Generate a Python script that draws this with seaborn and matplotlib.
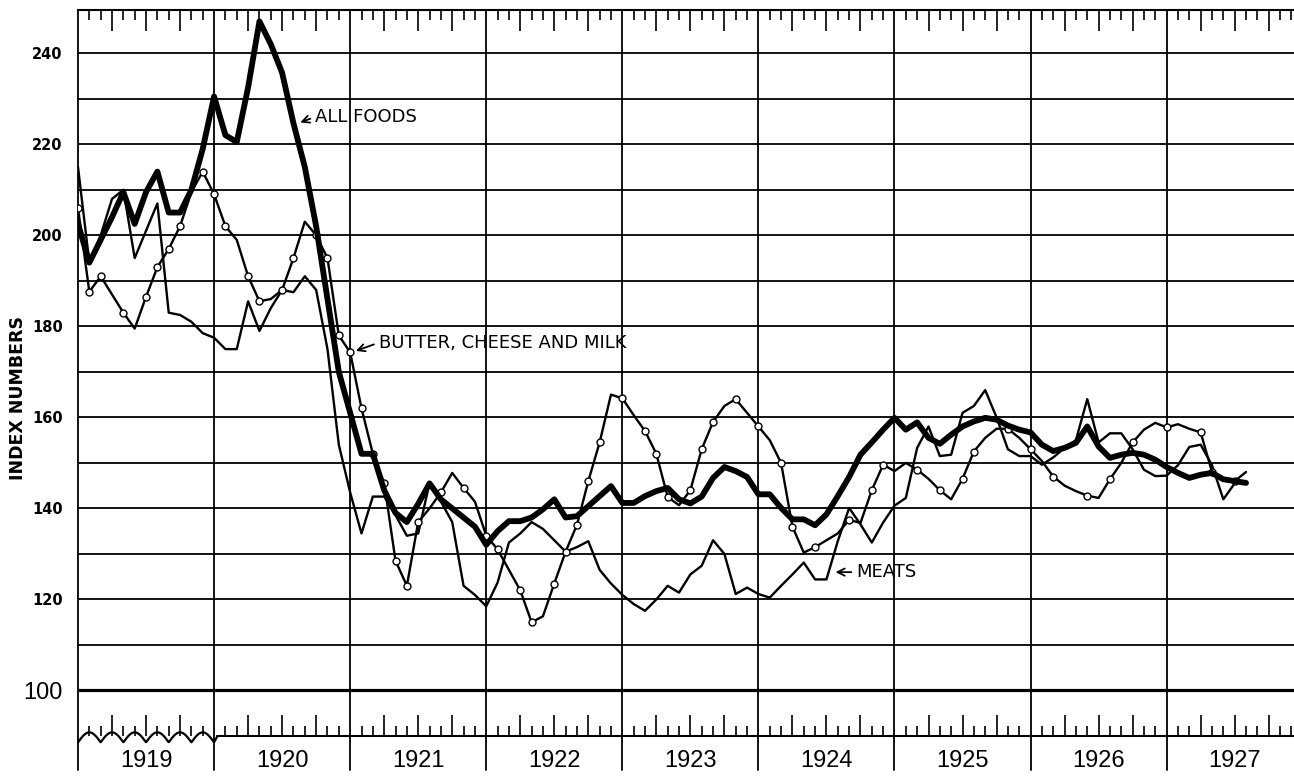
import numpy as np
import matplotlib
matplotlib.use('Agg')
import matplotlib.pyplot as plt
import seaborn as sns

# monthly index numbers, Jan 1919 .. Aug 1927
years = [1919, 1920, 1921, 1922, 1923, 1924, 1925, 1926, 1927]

all_foods = [
    202.5, 194, 199, 204, 209.5, 202.5, 209.5, 214, 205, 205, 210, 219,
    230.5, 222, 220.5, 232.5, 247, 242, 235.7, 224.6, 215, 202, 186, 170,
    161, 152, 152, 144, 139, 137, 141, 145.5, 142, 140, 138, 136,
    132, 135, 137.2, 137.2, 138, 139.8, 142, 138, 138.3, 140.5, 142.7, 144.9,
    141.2, 141.2, 142.7, 143.8, 144.5, 142, 141.1, 142.6, 146.7, 149.1, 148.2, 146.9,
    143.1, 143.1, 140.1, 137.6, 137.6, 136.3, 138.7, 142.7, 146.9, 151.8, 154.5, 157.3,
    159.9, 157.3, 158.9, 155.5, 154.2, 156.2, 158, 159.1, 159.9, 159.5, 158.2, 157.3,
    156.7, 154, 152.6, 153.3, 154.4, 158, 153.6, 151.1, 151.8, 152.2, 151.8, 150.7,
    149.1, 147.8, 146.7, 147.4, 147.8, 146.4, 146, 145.6,
]

butter_cheese_milk = [
    206, 187.6, 191, 187, 183, 179.5, 186.5, 193, 197, 202, 209.5, 214,
    209, 202, 199, 191, 185.5, 186, 188, 195, 203, 200, 195, 178,
    174.3, 162, 152, 145.6, 128.5, 123, 137, 140, 143.5, 147.8, 144.5, 141.5,
    134, 131, 126.5, 122, 115, 116.3, 123.5, 130.5, 136.4, 146, 154.5, 165,
    164.2, 160.5, 157, 152, 142.5, 140.7, 144, 153, 159, 162.5, 164, 161,
    158, 155, 150, 136, 130.3, 131.5, 133, 134.5, 137.5, 136.8, 144, 149.6,
    148.2, 150, 148.5, 146.5, 144, 142, 146.5, 152.5, 155.5, 157.5, 157.5, 155.5,
    153, 150.4, 147, 145, 143.8, 142.8, 142.3, 146.4, 150, 154.5, 157.3, 158.8,
    157.8, 158.5, 157.5, 156.7, 148, 146.4, 146, 148,
]

meats = [
    215, 194, 200, 208, 210, 195, 201, 207, 183, 182.5, 181, 178.5,
    177.5, 175, 175, 185.5, 179, 184, 188, 187.5, 191, 188, 175, 154,
    143.5, 134.5, 142.6, 142.6, 138.5, 134, 134.5, 145.6, 141.5, 137, 123, 121,
    118.5, 123.7, 132.5, 134.5, 137, 135.5, 133, 130.5, 131.5, 132.8, 126.5, 123.5,
    121, 119, 117.5, 120, 123, 121.5, 125.5, 127.4, 133, 130, 121.2, 122.6,
    121.2, 120.4, 123, 125.5, 128.1, 124.4, 124.4, 132.8, 140.1, 136.5, 132.5, 136.9,
    140.6, 142.3, 153.3, 158, 151.5, 151.8, 161, 162.5, 166, 160, 153, 151.5,
    151.5, 149.6, 151.2, 153.3, 155, 164, 154.5, 156.5, 156.5, 153, 148.5, 147.1,
    147.2, 149.5, 153.5, 154, 149.5, 142, 145.5, 146,
]

months = np.arange(len(all_foods))

sns.set_theme(style='white')
plt.rcParams['font.family'] = ['DejaVu Sans']
plt.rcParams['text.color'] = 'black'
plt.rcParams['axes.labelcolor'] = 'black'

W, H = 1294, 777
fig = plt.figure(figsize=(W / 100, H / 100), dpi=100)
ax = fig.add_axes([78 / W, 1 - 736 / H, 1 - 78 / W, (736 - 10) / H])

XMAX = (W - 78) / 11.34
YMIN, YMAX = 90, 249.5
ax.set_xlim(0, XMAX)
ax.set_ylim(YMIN, YMAX)

# grid
ax.hlines(np.arange(110, 250, 10), 0, XMAX, color='black', lw=1.3, zorder=1)
ax.hlines(100, 0, XMAX, color='black', lw=2.3, zorder=1)
for k in range(len(years)):
    ax.plot([12 * k, 12 * k], [82.5, YMAX], color='black', lw=1.3,
            clip_on=False, zorder=1)

# broken bottom axis in 1919, straight afterwards
zx = np.linspace(0, 12, 300)
zy = 88.6 + 2.2 * np.abs(np.sin(np.pi * zx / 2))
ax.plot(np.append(zx, 12.3), np.append(zy, 90), color='black', lw=1.6,
        clip_on=False)
ax.plot([12.3, XMAX], [90, 90], color='black', lw=1.5, clip_on=False)

# series
sns.lineplot(x=months, y=meats, ax=ax, color='black', lw=1.7, zorder=3)
sns.lineplot(x=months, y=butter_cheese_milk, ax=ax, color='black', lw=1.7,
             marker='o', markersize=5, markerfacecolor='white',
             markeredgecolor='black', markeredgewidth=1.0, markevery=0.026,
             zorder=4)
sns.lineplot(x=months, y=all_foods, ax=ax, color='black', lw=4.2, zorder=5)

# spines / ticks
for s in ['right', 'bottom', 'left']:
    ax.spines[s].set_visible(False)
ax.spines['top'].set_linewidth(1.5)
ax.spines['top'].set_color('black')

all_m = np.arange(0, int(XMAX) + 1)
major = [m for m in all_m if m % 3 == 0 and m % 12 != 0]
minor = [m for m in all_m if m % 3 != 0]
ax.set_xticks(major)
ax.set_xticks(minor, minor=True)
ax.set_xticklabels([])
ax.tick_params(axis='x', which='major', direction='in', length=15, width=1.2,
               top=True, bottom=True, color='black')
ax.tick_params(axis='x', which='minor', direction='in', length=7.5, width=1.2,
               top=True, bottom=True, color='black')

ax.set_yticks(np.arange(100, 241, 20))
ax.set_yticklabels([str(v) for v in range(100, 241, 20)])
ax.tick_params(axis='y', length=0, pad=11, labelsize=10.5, labelcolor='black')
for lab in ax.get_yticklabels():
    lab.set_fontweight('bold')
    if lab.get_text() == '100':
        lab.set_fontsize(17)
        lab.set_fontweight('normal')
        lab.set_family(['Liberation Sans', 'DejaVu Sans'])

for k, yr in enumerate(years):
    ax.text(12 * k + 6, 84.6, str(yr), ha='center', va='center', fontsize=17,
            family=['Liberation Sans', 'DejaVu Sans'], color='black')

fig.text(18 / W, 1 - 398 / H, 'INDEX NUMBERS', rotation=90, ha='center',
         va='center', fontsize=12.5, fontweight='bold', color='black')

arrow = dict(arrowstyle='->', lw=1.3, color='black', shrinkA=1, shrinkB=0,
             relpos=(0, 0.5))
ax.annotate('ALL FOODS', xy=(19.6, 224.8), xytext=(20.9, 226), ha='left',
            va='center', fontsize=13, color='black', arrowprops=arrow)
ax.annotate('BUTTER, CHEESE AND MILK', xy=(24.5, 174.6), xytext=(26.5, 176.4),
            ha='left', va='center', fontsize=13, color='black', arrowprops=arrow)
ax.annotate('MEATS', xy=(66.8, 126), xytext=(68.6, 126), ha='left',
            va='center', fontsize=13, color='black', arrowprops=arrow)

ax.set_xlabel('')
ax.set_ylabel('')

fig.savefig('out.png', dpi=100)
